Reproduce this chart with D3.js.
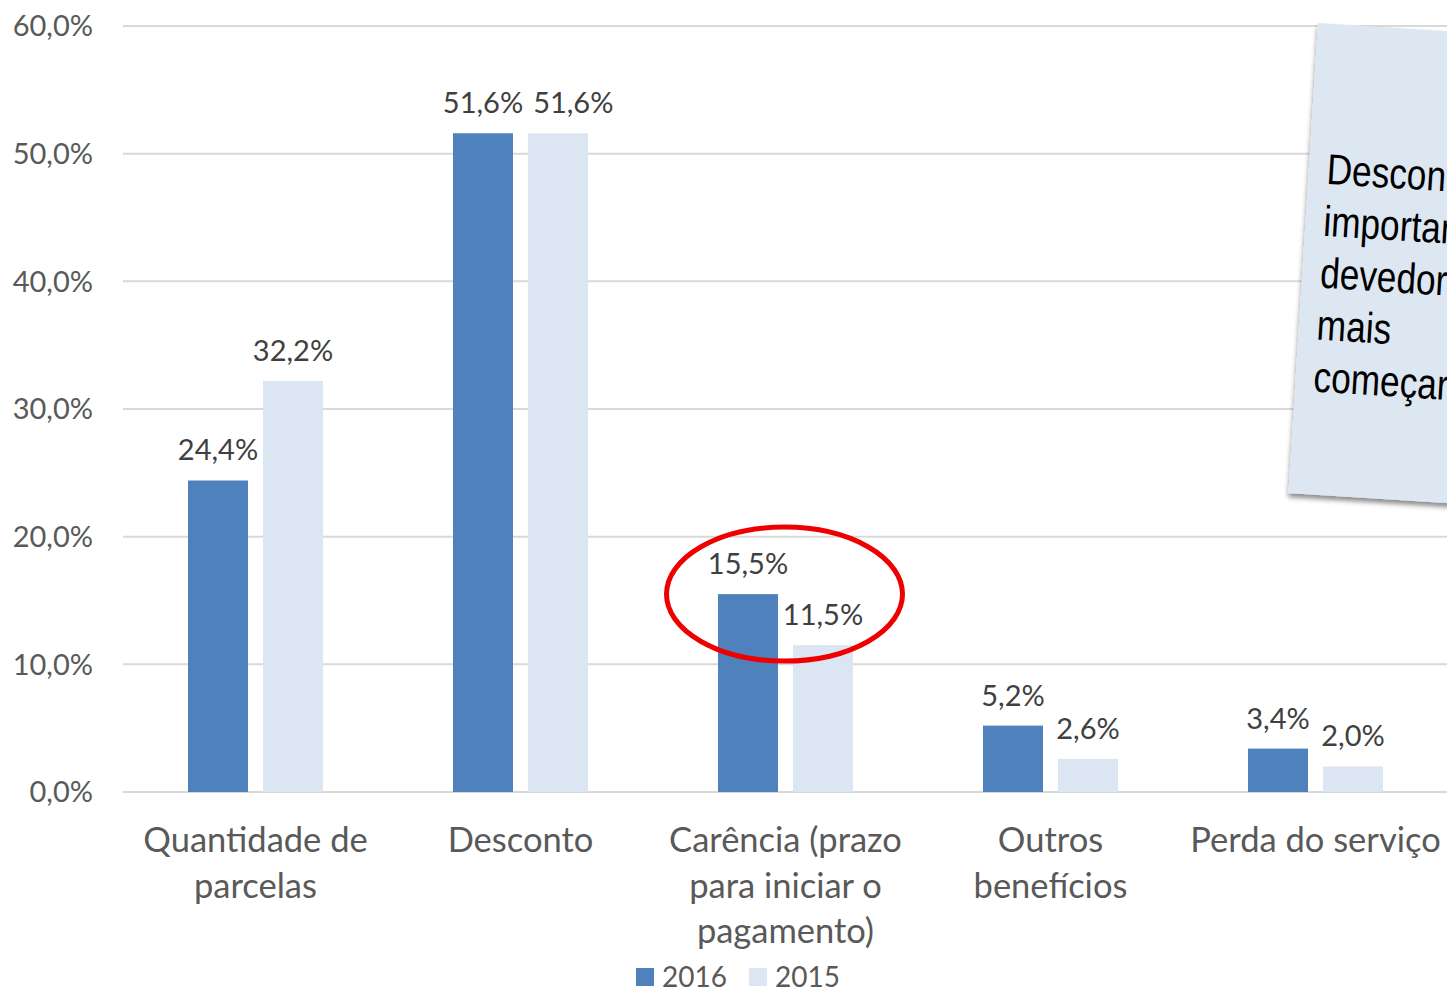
<!DOCTYPE html>
<html>
<head>
<meta charset="utf-8">
<script src="https://cdnjs.cloudflare.com/ajax/libs/d3/7.8.5/d3.min.js"></script>
<style>
  body { margin: 0; background: #fff; overflow: hidden; }
  svg { display: block; }
</style>
</head>
<body>
<div id="chart"></div>
<script>
var categories = [
    ["Quantidade de", "parcelas"],
    ["Desconto"],
    ["Carência (prazo", "para iniciar o", "pagamento)"],
    ["Outros", "benefícios"],
    ["Perda do serviço"]
];
var series = ["2016", "2015"];
var values2016 = [24.4, 51.6, 15.5, 5.2, 3.4];
var values2015 = [32.2, 51.6, 11.5, 2.6, 2.0];
var yTicks = [0, 10, 20, 30, 40, 50, 60];
var noteLines = ["Desconto é o", "importante para o", "devedores, que", "mais", "começar a pagar"];

var W = 1447, H = 989;
var mLeft = 123, mTop = 26, mBottom = 792;
var colors = { "2016": "#4f81bd", "2015": "#dce6f2" };
var fontFam = "Lato, 'Open Sans', sans-serif";

var svg = d3.select("#chart").append("svg")
    .attr("width", W)
    .attr("height", H);

var defs = svg.append("defs");
var shadow = defs.append("filter").attr("id", "shadow")
    .attr("x", "-20%").attr("y", "-20%").attr("width", "140%").attr("height", "140%");
shadow.append("feDropShadow")
    .attr("dx", 0).attr("dy", 4).attr("stdDeviation", 2.5)
    .attr("flood-color", "#000").attr("flood-opacity", 0.45);

var x0 = d3.scaleBand()
    .domain(d3.range(categories.length))
    .range([mLeft, mLeft + 265 * categories.length])
    .paddingInner(0).paddingOuter(0);

var x1 = d3.scaleBand()
    .domain(series)
    .range([65, 200])
    .paddingInner(0.2);

var y = d3.scaleLinear()
    .domain([0, 60])
    .range([mBottom, mTop]);

var fmt = function(v) { return d3.format(".1f")(v).replace(".", ",") + "%"; };

// gridlines
svg.append("g")
    .selectAll("line")
    .data(yTicks)
    .enter().append("line")
    .attr("x1", mLeft)
    .attr("x2", W)
    .attr("y1", function(d) { return y(d); })
    .attr("y2", function(d) { return y(d); })
    .attr("stroke", "#d9d9d9")
    .attr("stroke-width", 2);

// y tick labels
svg.append("g")
    .selectAll("text")
    .data(yTicks)
    .enter().append("text")
    .attr("x", 93)
    .attr("y", function(d) { return y(d); })
    .attr("dy", "0.36em")
    .attr("text-anchor", "end")
    .attr("font-family", fontFam)
    .attr("font-size", "29px")
    .attr("fill", "#595959")
    .text(fmt);

var rows = categories.map(function(c, i) {
    return { i: i, vals: [ { s: "2016", v: values2016[i] }, { s: "2015", v: values2015[i] } ] };
});

var groups = svg.append("g").selectAll("g.grp")
    .data(rows)
    .enter().append("g")
    .attr("class", "grp")
    .attr("transform", function(d) { return "translate(" + x0(d.i) + ",0)"; });

groups.selectAll("rect")
    .data(function(d) { return d.vals; })
    .enter().append("rect")
    .attr("x", function(d) { return x1(d.s); })
    .attr("y", function(d) { return y(d.v); })
    .attr("width", x1.bandwidth())
    .attr("height", function(d) { return mBottom - y(d.v); })
    .attr("fill", function(d) { return colors[d.s]; });

groups.selectAll("text.val")
    .data(function(d) { return d.vals; })
    .enter().append("text")
    .attr("class", "val")
    .attr("x", function(d) { return x1(d.s) + x1.bandwidth() / 2; })
    .attr("y", function(d) { return y(d.v) - 20; })
    .attr("text-anchor", "middle")
    .attr("font-family", fontFam)
    .attr("font-size", "29px")
    .attr("fill", "#404040")
    .text(function(d) { return fmt(d.v); });

// nudge the second label right when both labels sit on the same line
groups.each(function() {
    var t = d3.select(this).selectAll("text.val").nodes();
    var a = t[0].getBBox(), b = t[1].getBBox();
    var vOverlap = !(a.y + a.height < b.y || b.y + b.height < a.y);
    if (vOverlap && b.x < a.x + a.width + 10) {
        var shift = a.x + a.width + 10 - b.x;
        d3.select(t[1]).attr("x", +d3.select(t[1]).attr("x") + shift);
    }
});

// category labels
groups.append("text")
    .attr("text-anchor", "middle")
    .attr("font-family", fontFam)
    .attr("font-size", "34.5px")
    .attr("fill", "#595959")
    .selectAll("tspan")
    .data(function(d) { return categories[d.i]; })
    .enter().append("tspan")
    .attr("x", x0.bandwidth() / 2)
    .attr("y", function(d, j) { return 852 + j * 45.5; })
    .text(function(d) { return d; });

// red highlight ellipse around Carência
svg.append("ellipse")
    .attr("cx", x0(2) + x0.bandwidth() / 2 - 1)
    .attr("cy", y(values2016[2]))
    .attr("rx", 118)
    .attr("ry", 67)
    .attr("fill", "none")
    .attr("stroke", "#ee0000")
    .attr("stroke-width", 5);

// legend
var legend = svg.append("g").attr("transform", "translate(636,968)");
var li = legend.selectAll("g")
    .data(series)
    .enter().append("g")
    .attr("transform", function(d, i) { return "translate(" + (i * 113) + ",0)"; });
li.append("rect")
    .attr("width", 18).attr("height", 18)
    .attr("fill", function(d) { return colors[d]; });
li.append("text")
    .attr("x", 26)
    .attr("y", 9)
    .attr("dy", "0.36em")
    .attr("font-family", fontFam)
    .attr("font-size", "28px")
    .attr("fill", "#595959")
    .text(function(d) { return d; });

// tilted note on the right
var note = svg.append("g")
    .attr("transform", "translate(1318,23) rotate(3.6)");
note.append("rect")
    .attr("width", 320)
    .attr("height", 471)
    .attr("fill", "#dde7f2")
    .attr("filter", "url(#shadow)");
note.selectAll("text")
    .data(noteLines)
    .enter().append("text")
    .attr("transform", function(d, i) { return "translate(18," + (160 + i * 52) + ") scale(0.82,1)"; })
    .attr("font-family", "'Liberation Sans', Arial, sans-serif")
    .attr("font-size", "43px")
    .attr("fill", "#000")
    .text(function(d) { return d; });
</script>
</body>
</html>
